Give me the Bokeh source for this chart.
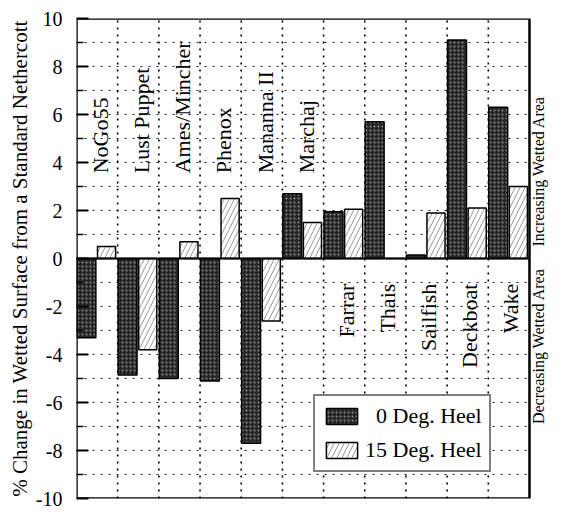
import math
from bokeh.plotting import figure
from bokeh.models import Range1d, FixedTicker, Legend, LegendItem, ColumnDataSource
from bokeh.core.properties import value
from bokeh.embed import file_html
from bokeh.resources import INLINE

# ---- data ----
boats = ["NoGo55", "Lust Puppet", "Ames/Mincher", "Phenox", "Mananna II", "Marchaj",
         "Farrar", "Thais", "Sailfish", "Deckboat", "Wake"]
heel0 = [-3.3, -4.85, -5.0, -5.1, -7.7, 2.7, 1.95, 5.7, 0.15, 9.1, 6.3]
heel15 = [0.5, -3.8, 0.7, 2.5, -2.6, 1.5, 2.05, 0.0, 1.9, 2.1, 3.0]
series_names = ["0 Deg. Heel", "15 Deg. Heel"]
y_ticks = list(range(-10, 11, 2))
y_minor = list(range(-9, 10, 2))
side_labels = ["Increasing Wetted Area", "Decreasing Wetted Area"]
n_top = 6  # first boats labelled above the zero line

FONT = "Liberation Serif"
nb = len(boats)
idx = list(range(nb))

src0 = ColumnDataSource(dict(x=[i + 0.24 for i in idx], top=heel0))
src15 = ColumnDataSource(dict(x=[i + 0.73 for i in idx], top=heel15))

# plot area extends a little past the last group to hold the side notes
p = figure(width=549, height=509, output_backend="svg", toolbar_location=None,
           x_range=Range1d(0, nb * 1.0442), y_range=Range1d(-10, 10),
           min_border_left=76, min_border_right=0, min_border_top=18,
           min_border_bottom=11)
p.background_fill_color = "white"
p.border_fill_color = "white"
p.outline_line_color = None
p.xgrid.visible = False
p.ygrid.visible = False

# axes
p.xaxis.visible = False
yax = p.yaxis[0]
yax.ticker = FixedTicker(ticks=y_ticks, minor_ticks=y_minor)
yax.major_label_overrides = {t: str(t) for t in y_ticks}
yax.axis_line_color = None
yax.major_tick_in = 12
yax.major_tick_out = 0
yax.minor_tick_in = 7
yax.minor_tick_out = 0
yax.major_tick_line_color = "black"
yax.major_tick_line_width = 2
yax.minor_tick_line_color = "black"
yax.minor_tick_line_width = 1.5
yax.major_label_text_font = FONT
yax.major_label_text_font_size = "20px"
yax.major_label_text_color = "black"
yax.major_label_standoff = 14
yax.axis_label = "% Change in Wetted Surface from a Standard Nethercott"
yax.axis_label_text_font = FONT
yax.axis_label_text_font_size = "21px"
yax.axis_label_text_font_style = "normal"
yax.axis_label_text_color = "black"
yax.axis_label_standoff = 1

# dotted grid inside the boxed area
grid_y = [v for v in range(-9, 10) if v != 0]
p.segment(x0=[0] * len(grid_y), x1=[nb] * len(grid_y), y0=grid_y, y1=grid_y,
          line_color="black", line_dash="2 6", line_width=1.2, line_alpha=0.9)
grid_x = list(range(1, nb))
p.segment(x0=grid_x, x1=grid_x, y0=[-10] * len(grid_x), y1=[10] * len(grid_x),
          line_color="black", line_dash="2 5", line_width=1.6)

# bars
r0 = p.vbar(x="x", top="top", bottom=0, width=0.46, source=src0,
            fill_color="#262626", line_color="black", line_width=1.5,
            hatch_pattern=".", hatch_color="#8c8c8c", hatch_scale=4, hatch_weight=1)
r15 = p.vbar(x="x", top="top", bottom=0, width=0.44, source=src15,
             fill_color="white", line_color="black", line_width=1.5,
             hatch_pattern="/", hatch_color="#9a9a9a", hatch_scale=10, hatch_weight=1)

# zero line and box
p.segment(x0=[0], x1=[nb], y0=[0], y1=[0], line_color="black", line_width=2)
p.quad(left=[0], right=[nb], bottom=[-10], top=[10], fill_color=None,
       line_color="black", line_width=2.5)

# boat name labels
top_src = ColumnDataSource(dict(x=[i + 0.58 for i in idx[:n_top]],
                                y=[3.55] * n_top, t=boats[:n_top]))
bot_src = ColumnDataSource(dict(x=[i + 0.55 for i in idx[n_top:]],
                                y=[-1.05] * (nb - n_top), t=boats[n_top:]))
p.text(x="x", y="y", text="t", source=top_src, angle=math.pi / 2,
       text_align="left", text_baseline="middle", text_font=value(FONT),
       text_font_size="22px", text_color="black")
p.text(x="x", y="y", text="t", source=bot_src, angle=math.pi / 2,
       text_align="right", text_baseline="middle", text_font=value(FONT),
       text_font_size="22px", text_color="black")

# side notes to the right of the box
p.text(x=[nb * 1.0203], y=[0.5], text=[side_labels[0]], angle=math.pi / 2,
       text_align="left", text_baseline="middle", text_font=value(FONT),
       text_font_size="16px", text_color="black")
p.text(x=[nb * 1.0203], y=[-0.4], text=[side_labels[1]], angle=math.pi / 2,
       text_align="right", text_baseline="middle", text_font=value(FONT),
       text_font_size="16px", text_color="black")

# legend
legend = Legend(items=[LegendItem(label="\u2007" + series_names[0], renderers=[r0]),
                       LegendItem(label=series_names[1], renderers=[r15])],
                location=(237, 26))
legend.label_text_font = FONT
legend.label_text_font_size = "22px"
legend.label_text_color = "black"
legend.glyph_width = 39
legend.glyph_height = 20
legend.label_standoff = 4
legend.spacing = 8
legend.padding = 7
legend.margin = 0
legend.border_line_color = "black"
legend.border_line_width = 2
legend.background_fill_color = "white"
legend.background_fill_alpha = 1.0
p.add_layout(legend, "center")

open("out.html", "w").write(file_html(p, INLINE))
